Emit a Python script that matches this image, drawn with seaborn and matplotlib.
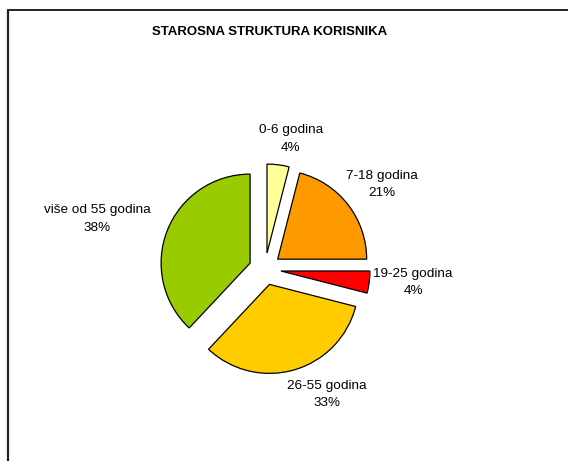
import matplotlib
matplotlib.use("Agg")
import matplotlib.pyplot as plt
from matplotlib.lines import Line2D
import numpy as np
import seaborn as sns

sns.set_theme(style="white")
plt.rcParams["font.family"] = ["Liberation Sans", "DejaVu Sans"]

AGE_GROUPS = ["0-6 godina", "7-18 godina", "19-25 godina", "26-55 godina", "više od 55 godina"]
SHARES = [4, 21, 4, 33, 38]

PALETTE = {
    "0-6 godina": "#FFFF99",
    "7-18 godina": "#FF9900",
    "19-25 godina": "#FF0000",
    "26-55 godina": "#FFCC00",
    "više od 55 godina": "#99CC00",
}

LABEL_DIST = [1.49, 1.62, 1.67, 1.57, 1.97]  # distance from pie centre, in radii
LABEL_NUDGE = [-4, -2, 2, 10, 5]  # degrees added to each wedge's mid angle

FIG_W, FIG_H = 568, 461


def _add_frame(fig):
    # chart area border: only the left and top edges are visible
    fig.add_artist(Line2D([8 / FIG_W, 8 / FIG_W], [0, 1 - 10.5 / FIG_H],
                          transform=fig.transFigure, color="#222222", lw=1.6))
    fig.add_artist(Line2D([8 / FIG_W, 1], [1 - 10.5 / FIG_H, 1 - 10.5 / FIG_H],
                          transform=fig.transFigure, color="#222222", lw=1.4))


def chart_age_structure():
    fig = plt.figure(figsize=(FIG_W / 100, FIG_H / 100), dpi=100)
    fig.patch.set_facecolor("white")

    # 1 data unit = 89 px, pie centre at (265, 269) px from top-left
    half_w, half_h = 2.5, 2.1
    ax = fig.add_axes([(265 - half_w * 89) / FIG_W, (FIG_H - 269 - half_h * 89) / FIG_H,
                       2 * half_w * 89 / FIG_W, 2 * half_h * 89 / FIG_H])

    wedges, _ = ax.pie(
        SHARES,
        colors=[PALETTE[g] for g in AGE_GROUPS],
        explode=[0.18] * len(SHARES),
        startangle=90,
        counterclock=False,
        wedgeprops={"edgecolor": "black", "linewidth": 0.9},
    )

    for wedge, group, share, dist, nudge in zip(wedges, AGE_GROUPS, SHARES, LABEL_DIST, LABEL_NUDGE):
        mid = np.deg2rad((wedge.theta1 + wedge.theta2) / 2 + nudge)
        ax.text(dist * np.cos(mid), dist * np.sin(mid), f"{group}\n{share}%",
                ha="center", va="center", fontsize=9.7, linespacing=1.6, color="black")

    ax.set_xlim(-half_w, half_w)
    ax.set_ylim(-half_h, half_h)
    ax.set_axis_off()

    fig.text(270 / FIG_W, 1 - 32 / FIG_H, "STAROSNA STRUKTURA KORISNIKA",
             ha="center", va="center", fontsize=9.5, fontweight="bold", color="black")
    _add_frame(fig)

    return fig


fig = chart_age_structure()
fig.savefig("out.png", dpi=100, facecolor=fig.get_facecolor())
plt.close(fig)
